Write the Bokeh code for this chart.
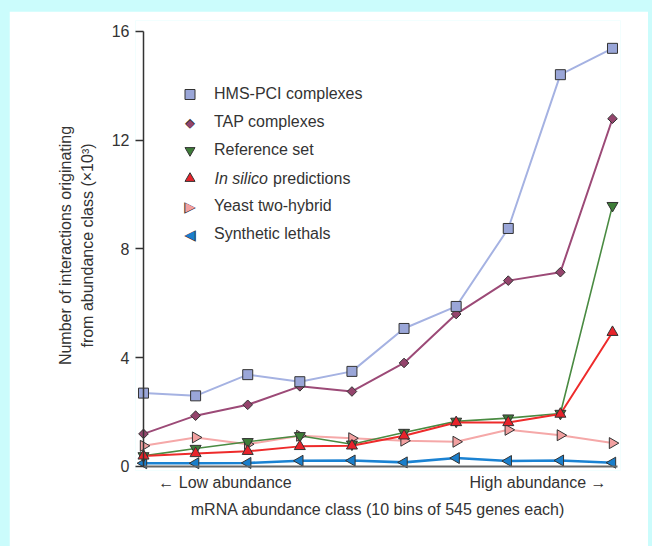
import math
from bokeh.plotting import figure
from bokeh.models import FixedTicker, Legend, LegendItem, Label, Range1d, LinearAxis
from bokeh.layouts import column
from bokeh.embed import file_html
from bokeh.resources import INLINE

# ---- data ----
bins = [1, 2, 3, 4, 5, 6, 7, 8, 9, 10]
hms_pci = [2.69, 2.59, 3.37, 3.11, 3.49, 5.07, 5.88, 8.75, 14.41, 15.38]
tap = [1.19, 1.86, 2.26, 2.94, 2.75, 3.80, 5.60, 6.83, 7.14, 12.79]
reference = [0.38, 0.65, 0.90, 1.12, 0.81, 1.24, 1.65, 1.77, 1.94, 9.59]
in_silico = [0.38, 0.47, 0.55, 0.73, 0.75, 1.12, 1.61, 1.61, 1.92, 4.93]
two_hybrid = [0.75, 1.06, 0.81, 1.12, 1.03, 0.94, 0.90, 1.34, 1.14, 0.85]
synthetic = [0.11, 0.11, 0.12, 0.20, 0.21, 0.14, 0.30, 0.19, 0.21, 0.13]
y_ticks = [0, 4, 8, 12, 16]
x_title = "mRNA abundance class (10 bins of 545 genes each)"
y_title = "Number of interactions originating\nfrom abundance class (\u00d710\u00b3)"
low_label = "\u2190 Low abundance"
high_label = "High abundance \u2192"

FONT = "Liberation Sans"
TXT = "#333333"
FS = "16px"

# layout helpers (page pixels -> data units)
X0, PXX = 0.8465, 52.11
FRAME_LEFT = 143.0
Y0_PAGE, PXY = 473.7, 27.17

def dx(page_x):
    return X0 + (page_x - FRAME_LEFT) / PXX

def dy(page_y):
    return (Y0_PAGE - page_y) / PXY

p = figure(frame_width=485, frame_height=450, min_border_left=126, min_border_right=28,
           min_border_top=9, min_border_bottom=76,
           x_range=Range1d(X0, X0 + 485 / PXX), y_range=Range1d(-0.158, -0.158 + 450 / PXY),
           output_backend="svg", toolbar_location=None,
           background_fill_color="white", border_fill_color="white")
p.outline_line_color = None
p.grid.visible = False

# left axis: tick labels, inward ticks, title (line drawn by fixed axis)
ya = p.yaxis[0]
ya.ticker = FixedTicker(ticks=y_ticks)
ya.axis_line_color = None
ya.minor_tick_line_color = None
ya.major_tick_out = 0
ya.major_tick_in = 8
ya.major_tick_line_color = "#333333"
ya.major_tick_line_width = 1.3
ya.major_label_text_font = FONT
ya.major_label_text_font_size = FS
ya.major_label_text_color = TXT
ya.major_label_standoff = 6
ya.axis_label = y_title
ya.axis_label_text_font = FONT
ya.axis_label_text_font_style = "normal"
ya.axis_label_text_font_size = FS
ya.axis_label_text_color = TXT
ya.axis_label_text_line_height = 1.25
ya.axis_label_standoff = 13

# y axis line at x = 1
y_line = LinearAxis(fixed_location=1, bounds=(0, 16), ticker=FixedTicker(ticks=[]),
                    axis_line_color="#333333", axis_line_width=1.5,
                    major_tick_line_color=None, minor_tick_line_color=None,
                    major_label_text_font_size="0px")
p.add_layout(y_line, "right")

# bottom axis: only the abundance captions and the title
low_pos, high_pos = dx(232.5), dx(545.5)
xa = p.xaxis[0]
xa.ticker = FixedTicker(ticks=[low_pos, high_pos])
xa.major_label_overrides = {low_pos: low_label, high_pos: high_label}
xa.axis_line_color = None
xa.major_tick_line_color = None
xa.minor_tick_line_color = None
xa.major_tick_out = 0
xa.major_tick_in = 0
xa.major_label_standoff = 3
xa.major_label_text_font = FONT
xa.major_label_text_font_size = FS
xa.major_label_text_color = TXT
xa.axis_label = x_title
xa.axis_label_text_font = FONT
xa.axis_label_text_font_style = "normal"
xa.axis_label_text_font_size = FS
xa.axis_label_text_color = TXT
xa.axis_label_standoff = 7

# x axis line at y = 0
x_line = LinearAxis(fixed_location=0, bounds=(1, 10.1), ticker=FixedTicker(ticks=[]),
                    axis_line_color="#666666", axis_line_width=2,
                    major_tick_line_color=None, minor_tick_line_color=None,
                    major_label_text_font_size="0px")
p.add_layout(x_line, "above")

series = {
    "HMS-PCI complexes": (hms_pci, "square", 0.0, 10, "#9aa6d8", "#a5b2e2", 2.0),
    "TAP complexes": (tap, "square", math.pi / 4, 6.8, "#94446c", "#9c4a77", 2.0),
    "Reference set": (reference, "inverted_triangle", 0.0, 11, "#3e7d38", "#4a8b42", 1.6),
    "In silico predictions": (in_silico, "triangle", 0.0, 11, "#e8232b", "#ee2b2b", 2.0),
    "Yeast two-hybrid": (two_hybrid, "triangle", -math.pi / 2, 11, "#f2a0a0", "#f5a8a8", 2.0),
    "Synthetic lethals": (synthetic, "triangle", math.pi / 2, 11, "#1a7ecb", "#1b82d2", 2.6),
}
legend_order = list(series.keys())
draw_order = ["Synthetic lethals", "Yeast two-hybrid", "Reference set",
              "In silico predictions", "TAP complexes", "HMS-PCI complexes"]

for name in draw_order:
    vals, marker, ang, size, fill, line, lw = series[name]
    p.line(bins, vals, line_color=line, line_width=lw)

renderers = {}
for name in draw_order:
    vals, marker, ang, size, fill, line, lw = series[name]
    renderers[name] = p.scatter(bins, vals, marker=marker, angle=ang, size=size,
                                fill_color=fill, line_color="#333333", line_width=1)

# invisible legend key for entries whose key is drawn as a symbol label
blank_key = p.scatter(x=[], y=[], marker="square", size=10, fill_alpha=0, line_alpha=0)

legend_renderers = {
    "HMS-PCI complexes": renderers["HMS-PCI complexes"],
    "TAP complexes": blank_key,
    "Reference set": renderers["Reference set"],
    "In silico predictions": renderers["In silico predictions"],
    "Yeast two-hybrid": blank_key,
    "Synthetic lethals": blank_key,
}
items = []
for name in legend_order:
    label = " " if name == "In silico predictions" else name
    items.append(LegendItem(label=label, renderers=[legend_renderers[name]]))

legend = Legend(items=items, location=(42, 223), orientation="vertical",
                glyph_width=25, glyph_height=26, label_height=26, spacing=2,
                label_standoff=12, padding=0, margin=0,
                label_text_font=FONT, label_text_font_size=FS,
                label_text_color=TXT, background_fill_alpha=0,
                border_line_color=None)
p.add_layout(legend, "center")

row_y = [102 + 28 * i for i in range(6)]

# italic part of the In silico legend entry
p.add_layout(Label(x=dx(222), y=dy(row_y[3]), text="In silico", text_font=FONT,
                   text_font_size=FS, text_font_style="italic",
                   text_color=TXT, text_baseline="middle", text_align="left"))
p.add_layout(Label(x=dx(280.5), y=dy(row_y[3]), text="predictions", text_font=FONT,
                   text_font_size=FS, text_color=TXT,
                   text_baseline="middle", text_align="left"))

# symbol keys for diamond and sideways triangles
for idx, ch, name, big, small in [(1, "\u25c6", "TAP complexes", "13px", "10.5px"),
                                  (4, "\u25b6", "Yeast two-hybrid", "15px", "12.5px"),
                                  (5, "\u25c0", "Synthetic lethals", "15px", "12.5px")]:
    fill = series[name][4]
    p.add_layout(Label(x=dx(197.5), y=dy(row_y[idx]), text=ch, text_font="DejaVu Sans",
                       text_font_size=big, text_color="#333333",
                       text_baseline="middle", text_align="center"))
    p.add_layout(Label(x=dx(197.5), y=dy(row_y[idx]), text=ch, text_font="DejaVu Sans",
                       text_font_size=small, text_color=fill,
                       text_baseline="middle", text_align="center"))

root = column(p, styles={"background-color": "#cbfcfc", "padding": "11px 4px 0px 9px"})

open("out.html", "w").write(file_html(root, INLINE))
